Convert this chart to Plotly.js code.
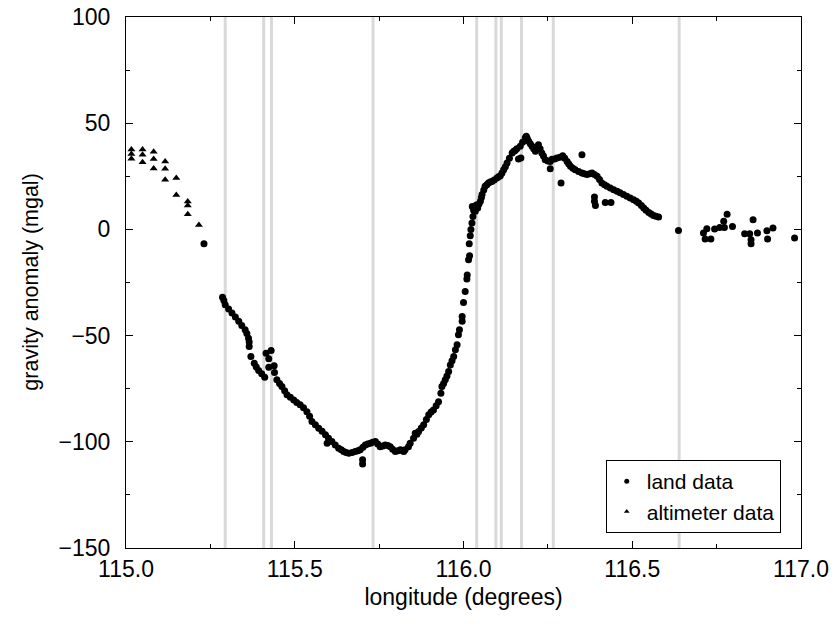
<!DOCTYPE html>
<html>
<head>
<meta charset="utf-8">
<script src="https://cdn.plot.ly/plotly-3.0.1.min.js"></script>
<style>html,body{margin:0;padding:0;background:#fff;}#chart{width:835px;height:624px;}</style>
</head>
<body>
<div id="chart"></div>
<script>
// Altimeter data (triangles)
const altLon = [115.016,115.016,115.016,115.049,115.049,115.049,115.082,115.082,115.082,115.116,115.116,115.116,115.149,115.149,115.183,115.183,115.183,115.216];
const altVal = [37.6,35.5,33.3,37.6,35.2,31.6,36.5,33.2,28.7,32.0,28.5,23.4,24.2,16.2,13.1,11.2,7.1,2.1];

// Land data (dots)
const landLon = [115.231,115.286,115.290,115.294,115.304,115.314,115.324,115.334,115.343,115.353,115.358,115.363,115.365,115.365,115.370,115.380,115.386,115.393,115.402,115.411,
115.415,115.430,115.423,115.423,115.439,115.440,115.447,115.455,115.462,115.470,115.477,115.487,115.497,115.506,115.516,115.526,115.536,115.544,115.551,115.561,
115.571,115.581,115.591,115.596,115.600,115.610,115.620,115.630,115.638,115.645,115.652,115.660,115.670,115.679,115.687,115.694,115.701,115.701,115.702,115.709,
115.716,115.724,115.731,115.739,115.746,115.753,115.761,115.768,115.776,115.783,115.790,115.798,115.806,115.813,115.820,115.823,115.827,115.837,115.842,115.852,
115.857,115.862,115.867,115.875,115.882,115.890,115.897,115.904,115.911,115.919,115.926,115.933,115.936,115.941,115.946,115.951,115.956,115.961,115.966,115.971,
115.976,115.981,115.985,115.988,115.996,115.996,116.000,116.005,116.010,116.011,116.015,116.018,116.017,116.020,116.022,116.025,116.028,116.026,116.030,116.035,
116.038,116.042,116.046,116.050,116.053,116.055,116.060,116.064,116.069,116.074,116.079,116.084,116.091,116.099,116.104,116.109,116.114,116.119,116.124,116.129,
116.136,116.144,116.149,116.153,116.163,116.158,116.168,116.170,116.175,116.183,116.186,116.189,116.193,116.198,116.203,116.208,116.213,116.218,116.222,116.227,
116.232,116.237,116.242,116.250,116.257,116.257,116.262,116.270,116.277,116.289,116.286,116.294,116.300,116.307,116.312,116.317,116.324,116.331,116.341,116.351,
116.351,116.358,116.366,116.374,116.381,116.388,116.388,116.388,116.391,116.396,116.403,116.410,116.418,116.420,116.425,116.435,116.437,116.445,116.455,116.464,
116.474,116.484,116.494,116.504,116.512,116.519,116.527,116.534,116.541,116.549,116.556,116.563,116.570,116.578,116.637,
116.711,116.721,116.716,116.733,116.744,116.759,116.771,116.773,116.781,116.797,116.833,116.848,116.858,116.852,116.852,116.871,116.899,116.901,116.917,116.981];
const landVal = [-6.7,-31.9,-33.5,-35.5,-37.5,-39.4,-41.3,-43.3,-45.3,-47.3,-49.0,-51.2,-53.0,-55.1,-59.8,-63.0,-64.8,-66.4,-68.0,-69.6,
-58.3,-57.0,-60.9,-64.9,-64.2,-67.4,-70.8,-72.5,-74.0,-76.0,-77.9,-79.0,-80.3,-81.5,-82.6,-84.0,-85.8,-88.0,-90.5,-92.0,
-93.6,-95.0,-96.7,-100.7,-98.3,-99.9,-101.5,-103.0,-103.8,-104.6,-105.0,-105.4,-105.0,-104.6,-104.2,-103.8,-108.5,-110.5,-102.6,-101.5,
-101.0,-100.7,-100.2,-99.9,-101.0,-102.3,-102.0,-101.5,-101.8,-102.3,-103.5,-104.6,-104.2,-103.8,-104.2,-104.6,-103.8,-102.3,-100.7,-98.3,
-96.0,-96.5,-95.2,-93.5,-92.0,-89.5,-87.3,-86.0,-85.0,-83.0,-81.1,-77.1,-74.0,-72.5,-70.8,-69.0,-66.9,-63.8,-61.8,-59.8,
-56.7,-54.3,-49.6,-47.3,-43.3,-41.0,-34.4,-29.2,-23.4,-21.5,-14.3,-12.4,-6.7,-3.0,-0.1,3.0,6.1,10.8,9.0,8.5,
11.5,10.1,12.0,13.2,15.0,16.4,18.5,20.3,21.0,21.9,22.3,22.6,23.3,24.2,24.8,25.3,26.5,28.1,29.5,31.3,
33.5,36.0,36.8,37.2,33.2,38.0,39.1,33.6,41.0,43.1,43.8,42.8,41.5,40.3,39.1,38.0,36.8,38.5,39.9,38.0,
36.0,34.5,32.8,32.2,32.0,28.5,33.0,33.2,33.6,21.9,34.0,34.7,33.5,32.0,30.8,29.7,28.8,28.1,27.3,26.6,
35.2,26.2,25.8,26.2,26.6,25.8,15.3,13.2,11.2,25.0,23.5,21.9,21.0,12.7,20.3,19.5,12.7,18.7,18.0,17.2,
16.4,15.6,14.8,14.0,13.2,12.4,11.2,10.1,9.0,8.0,7.2,6.5,6.2,5.8,-0.5,
-1.7,0.3,-4.5,-4.5,0.2,0.9,3.8,0.9,7.1,1.4,-2.0,-2.0,4.6,-4.9,-6.7,-1.7,-0.6,-4.5,0.7,-4.1];

// Vertical reference lines (longitudes)
const boundaryLon = [115.294,115.408,115.431,115.732,116.039,116.096,116.112,116.172,116.266,116.639];

const xTickVals = [115.0,115.5,116.0,116.5,117.0];
const yTickVals = [-150,-100,-50,0,50,100];
const seriesNames = ['land data','altimeter data'];
const xTitle = 'longitude (degrees)';
const yTitle = 'gravity anomaly (mgal)';

const FONT = 'Liberation Sans, Arial, Helvetica, sans-serif';

const traces = [
  {x: landLon, y: landVal, type:'scatter', mode:'markers', name:seriesNames[0], showlegend:false,
   marker:{symbol:'circle', size:7, color:'black'}},
  {x: altLon, y: altVal, type:'scatter', mode:'markers', name:seriesNames[1], showlegend:false,
   marker:{symbol:'triangle-up', size:7, color:'black'}},
  // legend-only entries (small symbols as in the reference key)
  {x:[null], y:[null], type:'scatter', mode:'markers', name:seriesNames[0],
   marker:{symbol:'circle', size:5, color:'black'}},
  {x:[null], y:[null], type:'scatter', mode:'markers', name:seriesNames[1],
   marker:{symbol:'triangle-up', size:5, color:'black'}}
];

const shapes = boundaryLon.map(v => ({type:'line', xref:'x', yref:'paper', x0:v, x1:v, y0:0, y1:1,
  line:{color:'#d9d9d9', width:3}, layer:'below'}));

const layout = {
  width:835, height:624,
  margin:{l:126, r:34, t:17, b:76},
  paper_bgcolor:'white', plot_bgcolor:'white',
  font:{family:FONT, size:22, color:'black'},
  showlegend:true,
  legend:{x:0.97, xanchor:'right', y:0.028, yanchor:'bottom', bordercolor:'black', borderwidth:1,
    bgcolor:'white', font:{family:FONT, size:21}, itemsizing:'trace', tracegroupgap:0},
  xaxis:{range:[115,117], tickvals:xTickVals, ticktext:xTickVals.map(v=>v.toFixed(1)),
    ticks:'inside', ticklen:7, tickcolor:'black', showline:true, linecolor:'black', linewidth:1,
    mirror:'ticks', showgrid:false, zeroline:false,
    minor:{dtick:0.25, tick0:115, ticks:'inside', ticklen:4, tickcolor:'black', showgrid:false},
    tickfont:{size:23}, title:{text:xTitle, font:{size:23}, standoff:8}},
  yaxis:{range:[-150,100], tickvals:yTickVals,
    ticks:'inside', ticklen:7, tickcolor:'black', showline:true, linecolor:'black', linewidth:1,
    mirror:'ticks', showgrid:false, zeroline:false, ticklabelstandoff:10,
    minor:{dtick:25, tick0:0, ticks:'inside', ticklen:4, tickcolor:'black', showgrid:false},
    tickfont:{size:23}},
  annotations:[{xref:'paper', yref:'paper', x:-0.142, y:0.5, xanchor:'center', yanchor:'middle',
    text:yTitle, textangle:-90, showarrow:false, font:{family:FONT, size:21.5, color:'black'}}],
  shapes: shapes
};

Plotly.newPlot('chart', traces, layout, {displayModeBar:false, staticPlot:true});
</script>
</body>
</html>
